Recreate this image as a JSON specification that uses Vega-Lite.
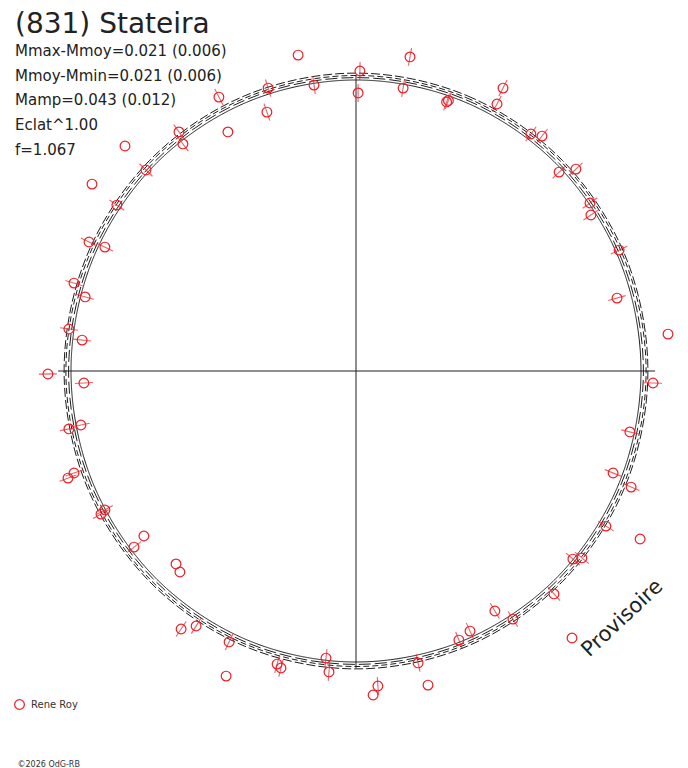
{
  "$schema": "https://vega.github.io/schema/vega-lite/v6.json",
  "width": 688,
  "height": 768,
  "autosize": "none",
  "padding": 0,
  "background": "white",
  "config": {"font": "DejaVu Sans", "view": {"stroke": null}},
  "title": {
    "text": "(831) Stateira",
    "subtitle": ["Mmax-Mmoy=0.021 (0.006)", "Mmoy-Mmin=0.021 (0.006)", "Mamp=0.043 (0.012)", "Eclat^1.00", "f=1.067"],
    "anchor": "start",
    "frame": "group",
    "offset": 0,
    "dx": 15,
    "dy": 158,
    "font": "DejaVu Sans",
    "fontSize": 28,
    "fontWeight": "normal",
    "color": "#222",
    "subtitleFont": "DejaVu Sans",
    "subtitleFontSize": 15,
    "subtitleColor": "#222",
    "subtitleLineHeight": 24.8,
    "subtitlePadding": 5
  },
  "datasets": {
    "axes": [
      {"x": -0.993, "y": 0, "x2": 0.997, "y2": 0},
      {"x": 0, "y": 0.987, "x2": 0, "y2": -0.99}
    ],
    "curves": [
      {"c": "D", "i": 0, "x": 0, "y": 0.970}, {"c": "D", "i": 1, "x": 0.364, "y": 0.896}, {"c": "D", "i": 2, "x": 0.672, "y": 0.686}, {"c": "D", "i": 3, "x": 0.878, "y": 0.371},
      {"c": "D", "i": 4, "x": 0.950, "y": 0}, {"c": "D", "i": 5, "x": 0.878, "y": -0.371}, {"c": "D", "i": 6, "x": 0.672, "y": -0.686}, {"c": "D", "i": 7, "x": 0.364, "y": -0.896},
      {"c": "D", "i": 8, "x": 0, "y": -0.970}, {"c": "D", "i": 9, "x": -0.364, "y": -0.896}, {"c": "D", "i": 10, "x": -0.672, "y": -0.686}, {"c": "D", "i": 11, "x": -0.878, "y": -0.371},
      {"c": "D", "i": 12, "x": -0.950, "y": 0}, {"c": "D", "i": 13, "x": -0.878, "y": 0.371}, {"c": "D", "i": 14, "x": -0.672, "y": 0.686}, {"c": "D", "i": 15, "x": -0.364, "y": 0.896},
      {"c": "C", "i": 0, "x": 0, "y": 0.978}, {"c": "C", "i": 1, "x": 0.367, "y": 0.904}, {"c": "C", "i": 2, "x": 0.677, "y": 0.692}, {"c": "C", "i": 3, "x": 0.885, "y": 0.374},
      {"c": "C", "i": 4, "x": 0.958, "y": 0}, {"c": "C", "i": 5, "x": 0.885, "y": -0.374}, {"c": "C", "i": 6, "x": 0.677, "y": -0.692}, {"c": "C", "i": 7, "x": 0.367, "y": -0.904},
      {"c": "C", "i": 8, "x": 0, "y": -0.978}, {"c": "C", "i": 9, "x": -0.367, "y": -0.904}, {"c": "C", "i": 10, "x": -0.677, "y": -0.692}, {"c": "C", "i": 11, "x": -0.885, "y": -0.374},
      {"c": "C", "i": 12, "x": -0.958, "y": 0}, {"c": "C", "i": 13, "x": -0.885, "y": 0.374}, {"c": "C", "i": 14, "x": -0.677, "y": 0.692}, {"c": "C", "i": 15, "x": -0.367, "y": 0.904},
      {"c": "B", "i": 0, "x": 0, "y": 0.985}, {"c": "B", "i": 1, "x": 0.370, "y": 0.910}, {"c": "B", "i": 2, "x": 0.684, "y": 0.697}, {"c": "B", "i": 3, "x": 0.893, "y": 0.377},
      {"c": "B", "i": 4, "x": 0.967, "y": 0}, {"c": "B", "i": 5, "x": 0.893, "y": -0.377}, {"c": "B", "i": 6, "x": 0.684, "y": -0.697}, {"c": "B", "i": 7, "x": 0.370, "y": -0.910},
      {"c": "B", "i": 8, "x": 0, "y": -0.985}, {"c": "B", "i": 9, "x": -0.370, "y": -0.910}, {"c": "B", "i": 10, "x": -0.684, "y": -0.697}, {"c": "B", "i": 11, "x": -0.893, "y": -0.377},
      {"c": "B", "i": 12, "x": -0.967, "y": 0}, {"c": "B", "i": 13, "x": -0.893, "y": 0.377}, {"c": "B", "i": 14, "x": -0.684, "y": 0.697}, {"c": "B", "i": 15, "x": -0.370, "y": 0.910},
      {"c": "A", "i": 0, "x": 0, "y": 0.993}, {"c": "A", "i": 1, "x": 0.372, "y": 0.917}, {"c": "A", "i": 2, "x": 0.688, "y": 0.702}, {"c": "A", "i": 3, "x": 0.899, "y": 0.380},
      {"c": "A", "i": 4, "x": 0.973, "y": 0}, {"c": "A", "i": 5, "x": 0.899, "y": -0.380}, {"c": "A", "i": 6, "x": 0.688, "y": -0.702}, {"c": "A", "i": 7, "x": 0.372, "y": -0.917},
      {"c": "A", "i": 8, "x": 0, "y": -0.993}, {"c": "A", "i": 9, "x": -0.372, "y": -0.917}, {"c": "A", "i": 10, "x": -0.688, "y": -0.702}, {"c": "A", "i": 11, "x": -0.899, "y": -0.380},
      {"c": "A", "i": 12, "x": -0.973, "y": 0}, {"c": "A", "i": 13, "x": -0.899, "y": 0.380}, {"c": "A", "i": 14, "x": -0.688, "y": 0.702}, {"c": "A", "i": 15, "x": -0.372, "y": 0.917}
    ],
    "obs": [
      {"x": -0.193, "y": 1.053}, {"x": 0.180, "y": 1.047, "ang": 10}, {"x": 0.013, "y": 1.000, "ang": 1},
      {"x": -0.140, "y": 0.953, "ang": -8}, {"x": -0.293, "y": 0.943, "ang": -17}, {"x": 0.157, "y": 0.943, "ang": 9},
      {"x": -0.457, "y": 0.913, "ang": -27}, {"x": 0.007, "y": 0.927, "ang": 0}, {"x": 0.490, "y": 0.943, "ang": 27},
      {"x": 0.470, "y": 0.890, "ang": 28}, {"x": 0.302, "y": 0.897, "ang": 19}, {"x": 0.308, "y": 0.902, "ang": 19},
      {"x": -0.297, "y": 0.863, "ang": -19}, {"x": -0.427, "y": 0.797}, {"x": -0.590, "y": 0.797, "ang": -36},
      {"x": -0.577, "y": 0.757, "ang": -37}, {"x": -0.770, "y": 0.750}, {"x": 0.583, "y": 0.790, "ang": 36},
      {"x": 0.620, "y": 0.783, "ang": 38}, {"x": -0.700, "y": 0.670, "ang": -46}, {"x": 0.677, "y": 0.663, "ang": 46},
      {"x": 0.733, "y": 0.673, "ang": 47}, {"x": -0.880, "y": 0.623}, {"x": -0.797, "y": 0.553, "ang": -55},
      {"x": 0.780, "y": 0.560, "ang": 54}, {"x": 0.783, "y": 0.520, "ang": 56}, {"x": -0.890, "y": 0.430, "ang": -64},
      {"x": -0.837, "y": 0.413, "ang": -64}, {"x": 0.877, "y": 0.403, "ang": 65}, {"x": -0.940, "y": 0.293, "ang": -73},
      {"x": -0.903, "y": 0.247, "ang": -75}, {"x": 0.870, "y": 0.243, "ang": 74}, {"x": -0.957, "y": 0.140, "ang": -82},
      {"x": -0.913, "y": 0.103, "ang": -84}, {"x": 1.040, "y": 0.123}, {"x": -1.027, "y": -0.010, "ang": -91},
      {"x": -0.907, "y": -0.040, "ang": -93}, {"x": 0.990, "y": -0.040, "ang": 92}, {"x": -0.917, "y": -0.180, "ang": -101},
      {"x": -0.957, "y": -0.193, "ang": -101}, {"x": 0.913, "y": -0.203, "ang": 103}, {"x": -0.940, "y": -0.340, "ang": -110},
      {"x": -0.960, "y": -0.357, "ang": -110}, {"x": 0.857, "y": -0.340, "ang": 112}, {"x": 0.917, "y": -0.387, "ang": 113},
      {"x": -0.850, "y": -0.477, "ang": -119}, {"x": -0.837, "y": -0.463, "ang": -119}, {"x": 0.833, "y": -0.517, "ang": 122},
      {"x": -0.707, "y": -0.550}, {"x": -0.740, "y": -0.587, "ang": -128}, {"x": 0.947, "y": -0.560},
      {"x": -0.600, "y": -0.643}, {"x": -0.587, "y": -0.670}, {"x": 0.723, "y": -0.627, "ang": 131},
      {"x": 0.753, "y": -0.623, "ang": 130}, {"x": 0.660, "y": -0.743, "ang": 138}, {"x": 0.463, "y": -0.800, "ang": 150},
      {"x": 0.523, "y": -0.827, "ang": 148}, {"x": 0.380, "y": -0.867, "ang": 156}, {"x": 0.343, "y": -0.897, "ang": 159},
      {"x": 0.720, "y": -0.890}, {"x": -0.583, "y": -0.860, "ang": -146}, {"x": -0.533, "y": -0.850, "ang": -148},
      {"x": -0.423, "y": -0.903, "ang": -155}, {"x": -0.433, "y": -1.017}, {"x": -0.263, "y": -0.977, "ang": -165},
      {"x": -0.250, "y": -0.990, "ang": -166}, {"x": -0.100, "y": -0.957, "ang": -174}, {"x": -0.090, "y": -1.003, "ang": -175},
      {"x": 0.073, "y": -1.050, "ang": 176}, {"x": 0.057, "y": -1.080}, {"x": 0.207, "y": -0.973, "ang": 168},
      {"x": 0.240, "y": -1.047}
    ]
  },
  "encoding": {
    "x": {
      "field": "x",
      "type": "quantitative",
      "scale": {"domain": [-1.186667, 1.106667], "nice": false, "zero": false},
      "axis": {
        "domain": false, "ticks": false, "labels": false, "grid": false,
        "title": "©2026 OdG-RB",
        "titleX": 17, "titleY": -2,
        "titleAlign": "left", "titleBaseline": "alphabetic",
        "titleFont": "DejaVu Sans", "titleFontSize": 8, "titleFontWeight": "normal", "titleColor": "#333"
      }
    },
    "y": {
      "field": "y",
      "type": "quantitative",
      "scale": {"domain": [-1.323333, 1.236667], "nice": false, "zero": false},
      "axis": {
        "domain": false, "ticks": false, "labels": false, "grid": false,
        "title": "Provisoire",
        "titleX": 622, "titleY": 618, "titleAngle": -43,
        "titleAlign": "center", "titleBaseline": "middle",
        "titleFont": "DejaVu Sans", "titleFontSize": 21, "titleFontWeight": "normal", "titleColor": "#222"
      }
    }
  },
  "layer": [
    {
      "data": {"name": "curves"},
      "mark": {"type": "line", "interpolate": "cardinal-closed", "color": "#1e1e1e", "strokeWidth": 1},
      "encoding": {
        "order": {"field": "i", "type": "quantitative"},
        "strokeDash": {
          "field": "c", "type": "nominal",
          "scale": {"domain": ["A", "B", "C", "D"], "range": [[9, 3], [6, 3], [12, 4], [1, 0]]},
          "legend": null
        }
      }
    },
    {
      "data": {"name": "axes"},
      "mark": {"type": "rule", "color": "#1e1e1e", "strokeWidth": 1},
      "encoding": {
        "x2": {"field": "x2"},
        "y2": {"field": "y2"}
      }
    },
    {
      "data": {"name": "obs"},
      "transform": [{"filter": "isValid(datum.ang)"}],
      "mark": {"type": "point", "shape": "M0,-1L0,1", "size": 324, "filled": false, "stroke": "#f01c24", "strokeWidth": 1.1},
      "encoding": {
        "angle": {"field": "ang", "type": "quantitative", "scale": null}
      }
    },
    {
      "data": {"name": "obs"},
      "mark": {"type": "point", "shape": "circle", "size": 95, "filled": false, "strokeWidth": 1.2, "opacity": 1},
      "encoding": {
        "stroke": {
          "datum": "Rene Roy",
          "type": "nominal",
          "scale": {"range": ["#f01c24"]},
          "legend": {
            "orient": "none", "legendX": 14, "legendY": 699, "title": null,
            "symbolType": "circle", "symbolSize": 95, "symbolStrokeWidth": 1.2, "symbolFillColor": "transparent", "symbolOpacity": 1,
            "labelFont": "DejaVu Sans", "labelFontSize": 10, "labelColor": "#333", "labelOffset": 6, "padding": 0
          }
        }
      }
    }
  ]
}
